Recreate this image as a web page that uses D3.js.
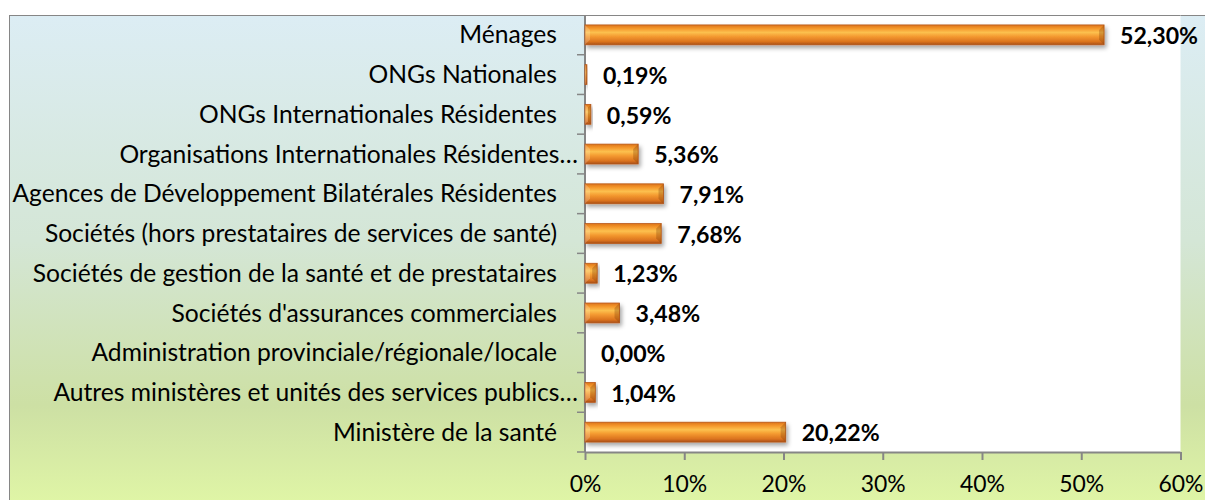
<!DOCTYPE html>
<html>
<head>
<meta charset="utf-8">
<script src="https://cdn.jsdelivr.net/npm/d3@7"></script>
<style>
  body { margin: 0; background: #fff; }
  svg { display: block; }
  text { font-family: Lato, "Open Sans", sans-serif; fill: #000; }
</style>
</head>
<body>
<div id="chart"></div>
<script>
const categories = [
    "Ménages",
    "ONGs Nationales",
    "ONGs Internationales Résidentes",
    "Organisations Internationales Résidentes…",
    "Agences de Développement Bilatérales Résidentes",
    "Sociétés (hors prestataires de services de santé)",
    "Sociétés de gestion de la santé et de prestataires",
    "Sociétés d'assurances commerciales",
    "Administration provinciale/régionale/locale",
    "Autres ministères et unités des services publics…",
    "Ministère de la santé"
];
const values = [52.30, 0.19, 0.59, 5.36, 7.91, 7.68, 1.23, 3.48, 0.00, 1.04, 20.22];
const valueLabels = ["52,30%", "0,19%", "0,59%", "5,36%", "7,91%", "7,68%", "1,23%", "3,48%", "0,00%", "1,04%", "20,22%"];
const xTicks = [0, 10, 20, 30, 40, 50, 60];

const width = 1205, height = 500;
const plot = { left: 585, right: 1180.5, top: 15, bottom: 452 };

const svg = d3.select("#chart").append("svg")
    .attr("width", width)
    .attr("height", height);

const defs = svg.append("defs");

// chart area background
const bg = defs.append("linearGradient").attr("id", "bg")
    .attr("x1", 0).attr("y1", 0).attr("x2", 0).attr("y2", 1);
[[0, "#dcedf4"], [0.45, "#d4e6d6"], [0.78, "#cde0a4"], [1, "#e2f8a6"]]
    .forEach(([o, c]) => bg.append("stop").attr("offset", o).attr("stop-color", c));

// bar body
const barGrad = defs.append("linearGradient").attr("id", "bar")
    .attr("x1", 0).attr("y1", 0).attr("x2", 0).attr("y2", 1);
[[0, "#dc7418"], [0.18, "#f5982c"], [0.38, "#fcc04e"], [0.58, "#f49a30"], [0.85, "#da721e"], [1, "#a64e16"]]
    .forEach(([o, c]) => barGrad.append("stop").attr("offset", o).attr("stop-color", c));

const shadow = defs.append("filter").attr("id", "shadow")
    .attr("x", "-10%").attr("y", "-30%").attr("width", "130%").attr("height", "190%");
shadow.append("feDropShadow").attr("dx", 2).attr("dy", 3).attr("stdDeviation", 2)
    .attr("flood-color", "#000").attr("flood-opacity", 0.35);

svg.append("rect")
    .attr("x", 9.5).attr("y", 15.5)
    .attr("width", 1210).attr("height", 500)
    .attr("fill", "url(#bg)")
    .attr("stroke", "#868686");

svg.append("rect")
    .attr("x", plot.left).attr("y", plot.top)
    .attr("width", plot.right - plot.left).attr("height", plot.bottom - plot.top)
    .attr("fill", "#fff");

const x = d3.scaleLinear().domain([0, 60]).range([plot.left, plot.right]);
const y = d3.scaleBand().domain(categories).range([plot.top, plot.bottom])
    .paddingInner(0.5).paddingOuter(0.25);

svg.append("line").attr("x1", plot.left).attr("x2", plot.right)
    .attr("y1", plot.top + 0.5).attr("y2", plot.top + 0.5).attr("stroke", "#868686");

// x axis
const xAxis = svg.append("g")
    .attr("transform", `translate(0,${plot.bottom})`)
    .call(d3.axisBottom(x).tickValues(xTicks).tickFormat(d => d + "%").tickSize(8).tickPadding(16));
xAxis.selectAll("path, line").attr("stroke", "#868686").attr("stroke-width", 2);
xAxis.select(".domain").attr("d", `M${plot.left},0.5H${plot.right}`);
const tickText = xAxis.selectAll("text").attr("fill", "#000").attr("font-family", null)
    .style("font-size", "20px");
const tref = tickText.filter(d => d === 60).node();
tickText.style("font-size", (20 * 45 / tref.getComputedTextLength()) + "px");

// y axis line and ticks at band boundaries
const off = (y.step() - y.bandwidth()) / 2;
const bounds = categories.map(c => y(c) - off).concat([plot.bottom]);
svg.append("line")
    .attr("x1", plot.left).attr("x2", plot.left)
    .attr("y1", plot.top).attr("y2", plot.bottom)
    .attr("stroke", "#868686").attr("stroke-width", 2);
svg.selectAll(".ytick").data(bounds.slice(1)).enter().append("line")
    .attr("class", "ytick")
    .attr("x1", plot.left - 8).attr("x2", plot.left)
    .attr("y1", d => d).attr("y2", d => d)
    .attr("stroke", "#868686").attr("stroke-width", 1.5);

// category labels
const catLabels = svg.selectAll(".cat").data(categories).enter().append("text")
    .attr("class", "cat")
    .attr("x", d => d.endsWith("…") ? 578 : 557)
    .attr("y", d => y(d) + y.bandwidth() / 2)
    .attr("dy", "0.35em")
    .attr("text-anchor", "end")
    .style("font-size", "20px")
    .text(d => d);

const ref = catLabels.filter(d => d.startsWith("Agences")).node();
catLabels.style("font-size", (20 * 545 / ref.getComputedTextLength()) + "px");

// bars
const bars = svg.selectAll(".bar").data(categories).enter().append("g")
    .attr("class", "bar")
    .attr("filter", "url(#shadow)");

bars.append("rect")
    .attr("x", x(0))
    .attr("y", d => y(d))
    .attr("width", (d, i) => x(values[i]) - x(0))
    .attr("height", y.bandwidth())
    .attr("fill", "url(#bar)")
    .attr("stroke", "#b8581a")
    .attr("stroke-width", (d, i) => values[i] > 0 ? 0.8 : 0);

// bevel ends
bars.each(function (d, i) {
    const w = x(values[i]) - x(0);
    if (w <= 0) return;
    const b = Math.min(5, w / 2);
    const x0 = x(0), x1 = x(values[i]), y0 = y(d), h = y.bandwidth();
    const g = d3.select(this);
    g.append("path")
        .attr("d", `M${x0},${y0}L${x0 + b},${y0 + b}L${x0 + b},${y0 + h - b}L${x0},${y0 + h}Z`)
        .attr("fill", "#fff").attr("opacity", 0.2);
    g.append("path")
        .attr("d", `M${x1},${y0}L${x1 - b},${y0 + b}L${x1 - b},${y0 + h - b}L${x1},${y0 + h}Z`)
        .attr("fill", "#7a3a08").attr("opacity", 0.3);
});

// value labels
const valText = svg.selectAll(".val").data(categories).enter().append("text")
    .attr("class", "val")
    .attr("x", (d, i) => x(values[i]) + 16)
    .attr("y", d => y(d) + y.bandwidth() / 2)
    .attr("dy", "0.4em")
    .style("font-size", "20px")
    .style("font-weight", "bold")
    .text((d, i) => valueLabels[i]);
const vref = valText.filter((d, i) => i === 0).node();
valText.style("font-size", (20 * 78 / vref.getComputedTextLength()) + "px");
</script>
</body>
</html>
